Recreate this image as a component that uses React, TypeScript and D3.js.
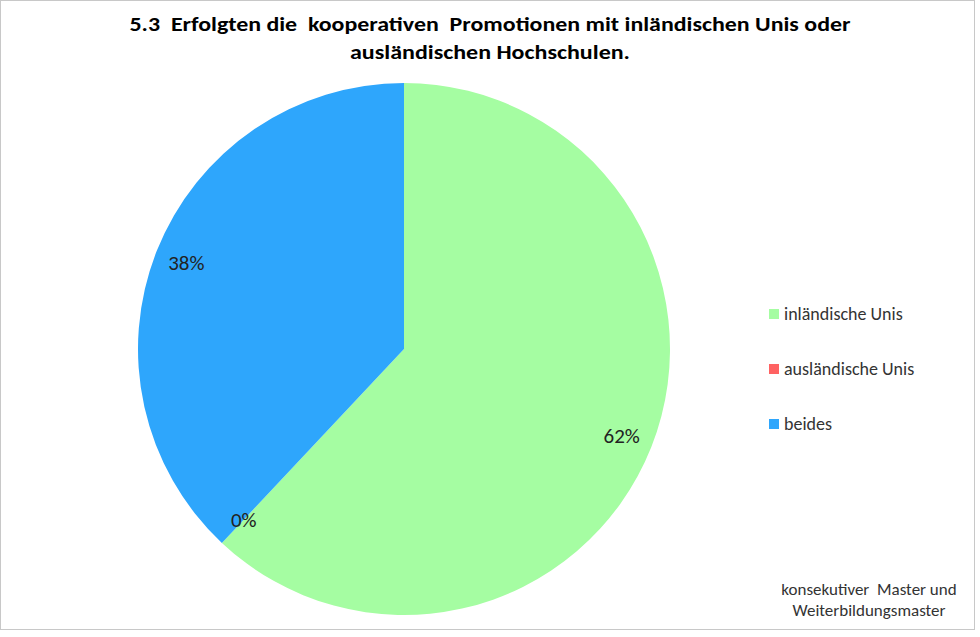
import { useEffect, useRef } from "react";
import * as d3 from "d3";

const categories = ["inländische Unis", "ausländische Unis", "beides"];
const shares = [62, 0, 38];
const colors = ["#A5FDA2", "#FF6262", "#2EA6FC"];
const titleLines = [
  "5.3  Erfolgten die  kooperativen  Promotionen mit inländischen Unis oder",
  "ausländischen Hochschulen.",
];
const noteLines = ["konsekutiver  Master und", "Weiterbildungsmaster"];

export default function App() {
  const ref = useRef<SVGSVGElement>(null);

  useEffect(() => {
    const width = 980;
    const cx = 404;
    const cy = 349;
    const radius = 266;
    const font = "Carlito, Lato, 'Open Sans', sans-serif";

    const svg = d3.select(ref.current);
    svg.selectAll("*").remove();

    svg.append("rect")
      .attr("x", 0.5).attr("y", 0.5)
      .attr("width", width - 6).attr("height", 629)
      .attr("fill", "white")
      .attr("stroke", "#c8c8c8");

    // title
    svg.append("g")
      .attr("font-family", font)
      .attr("font-weight", "bold")
      .attr("font-size", 20)
      .attr("text-anchor", "middle")
      .attr("fill", "#000")
      .selectAll("text")
      .data(titleLines)
      .join("text")
        .attr("xml:space", "preserve")
        .style("white-space", "pre")
        .attr("x", 490)
        .attr("y", (d, i) => 31 + i * 28)
        .attr("textLength", (d, i) => (i === 0 ? 721 : 280))
        .attr("lengthAdjust", "spacingAndGlyphs")
        .text(d => d);

    const data = categories.map((c, i) => ({ name: c, value: shares[i], color: colors[i] }));

    const pie = d3.pie<any>().sort(null).value(d => d.value);
    const arcs = pie(data);
    const arc = d3.arc<any>().innerRadius(0).outerRadius(radius);
    const labelArc = d3.arc<any>().innerRadius(radius * 0.88).outerRadius(radius * 0.88);

    const g = svg.append("g").attr("transform", `translate(${cx},${cy})`);
    g.selectAll("path")
      .data(arcs)
      .join("path")
        .attr("d", arc)
        .attr("fill", d => d.data.color);

    g.selectAll("text")
      .data(arcs)
      .join("text")
        .attr("transform", d => `translate(${labelArc.centroid(d)})`)
        .attr("text-anchor", "middle")
        .attr("dy", "0.35em")
        .attr("font-family", font)
        .attr("font-size", 21)
        .attr("fill", "#222")
        .text(d => `${d.data.value}%`);

    // legend
    const legend = svg.append("g")
      .attr("font-family", font)
      .attr("font-size", 18)
      .attr("fill", "#333");
    const ly = d3.scalePoint().domain(categories).range([314, 424]);
    legend.selectAll("rect")
      .data(data)
      .join("rect")
        .attr("x", 769)
        .attr("y", d => ly(d.name)! - 5)
        .attr("width", 10)
        .attr("height", 10)
        .attr("fill", d => d.color);
    legend.selectAll("text")
      .data(data)
      .join("text")
        .attr("x", 784)
        .attr("y", d => ly(d.name)!)
        .attr("dy", "0.35em")
        .text(d => d.name);

    // note
    svg.append("g")
      .attr("font-family", font)
      .attr("font-size", 17)
      .attr("fill", "#333")
      .attr("text-anchor", "middle")
      .selectAll("text")
      .data(noteLines)
      .join("text")
        .attr("xml:space", "preserve")
        .style("white-space", "pre")
        .attr("x", 869)
        .attr("y", (d, i) => 595 + i * 21)
        .text(d => d);
  }, []);

  return (
    <svg
      ref={ref}
      width={980}
      height={637}
      style={{ position: "absolute", left: 0, top: 0, display: "block" }}
    />
  );
}
